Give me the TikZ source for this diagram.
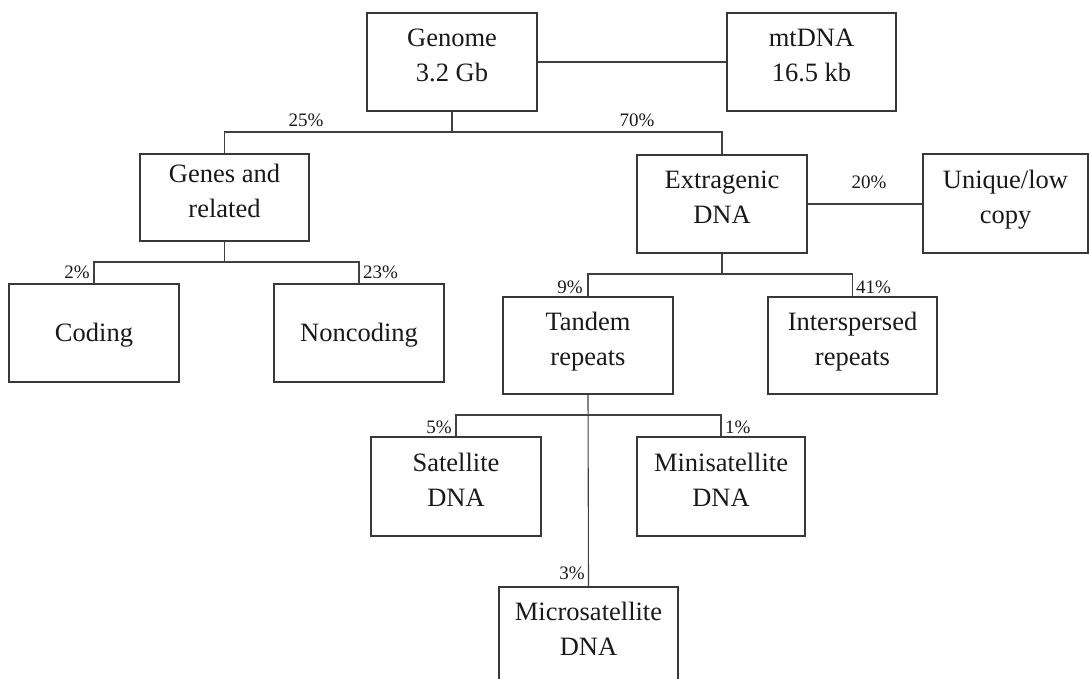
\documentclass[tikz,border=0pt]{standalone}
\usepackage{fontspec}
\setmainfont{Liberation Serif}
\begin{document}
\begin{tikzpicture}[x=1pt,y=-1pt,
  box/.style={draw=black!78,line width=1.1pt,align=center,inner sep=0pt,
    font=\fontsize{26.5}{35}\selectfont,text=black!90,text depth=13pt},
  onebox/.style={box,text depth=2pt},
  pct/.style={font=\fontsize{19}{22}\selectfont,text=black!90,inner sep=0pt},
  link/.style={draw=black!75,line width=1.1pt}]
\useasboundingbox (0,0) rectangle (1089,679);
% boxes
\node[box,minimum width=170pt,minimum height=98pt] (genome) at (452,62) {Genome\\3.2 Gb};
\node[box,minimum width=169pt,minimum height=98pt] (mtdna) at (811.5,62) {mtDNA\\16.5 kb};
\node[box,minimum width=169pt,minimum height=87pt] (genes) at (224.5,197.5) {Genes and\\related};
\node[box,minimum width=170pt,minimum height=98pt] (extra) at (722,204) {Extragenic\\DNA};
\node[box,minimum width=165pt,minimum height=99pt] (unique) at (1005.5,203.5) {Unique/low\\copy};
\node[onebox,minimum width=170pt,minimum height=98pt] (coding) at (94,333) {Coding};
\node[onebox,minimum width=170pt,minimum height=98pt] (noncoding) at (359,333) {Noncoding};
\node[box,minimum width=170pt,minimum height=97pt] (tandem) at (588,345.5) {Tandem\\repeats};
\node[box,minimum width=169pt,minimum height=97pt] (inter) at (852.5,345.5) {Interspersed\\repeats};
\node[box,minimum width=170pt,minimum height=99pt] (sat) at (456,486.5) {Satellite\\DNA};
\node[box,minimum width=168pt,minimum height=99pt] (minisat) at (721,486.5) {Minisatellite\\DNA};
\node[box,minimum width=179pt,minimum height=96pt] (microsat) at (588.5,635) {Microsatellite\\DNA};
% junctions
\coordinate (j1) at (452,132);
\coordinate (j2) at (224.5,262);
\coordinate (j3) at (722,274);
\coordinate (j4) at (588,415);
% connectors
\draw[link] (genome.east) -- (mtdna.west);
\draw[link] (genome.south) -- (j1);
\draw[link] (genes.north) |- (j1) -| (extra.north);
\draw[link] (extra.east) -- (unique.west |- extra.east);
\draw[link] (genes.south) -- (j2);
\draw[link] (coding.north) |- (j2) -| (noncoding.north);
\draw[link] (extra.south) -- (j3);
\draw[link] (tandem.north) |- (j3) -| (inter.north);
\draw[link] (tandem.south) -- (microsat.north);
\draw[link] (sat.north) |- (j4) -| (minisat.north);
% percentages
\node[pct,anchor=base] (p25) at (306,127) {25\%};
\node[pct,anchor=base] (p70) at (637,127) {70\%};
\node[pct,anchor=base] (p20) at (869,189) {20\%};
\node[pct,anchor=base east] (p2) at (90,278) {2\%};
\node[pct,anchor=base west] (p23) at (363,278) {23\%};
\node[pct,anchor=base east] (p9) at (583,293) {9\%};
\node[pct,anchor=base west] (p41) at (856,293) {41\%};
\node[pct,anchor=base east] (p5) at (452,433) {5\%};
\node[pct,anchor=base west] (p1) at (725,433) {1\%};
\node[pct,anchor=base east] (p3) at (585,579) {3\%};
\end{tikzpicture}
\end{document}
